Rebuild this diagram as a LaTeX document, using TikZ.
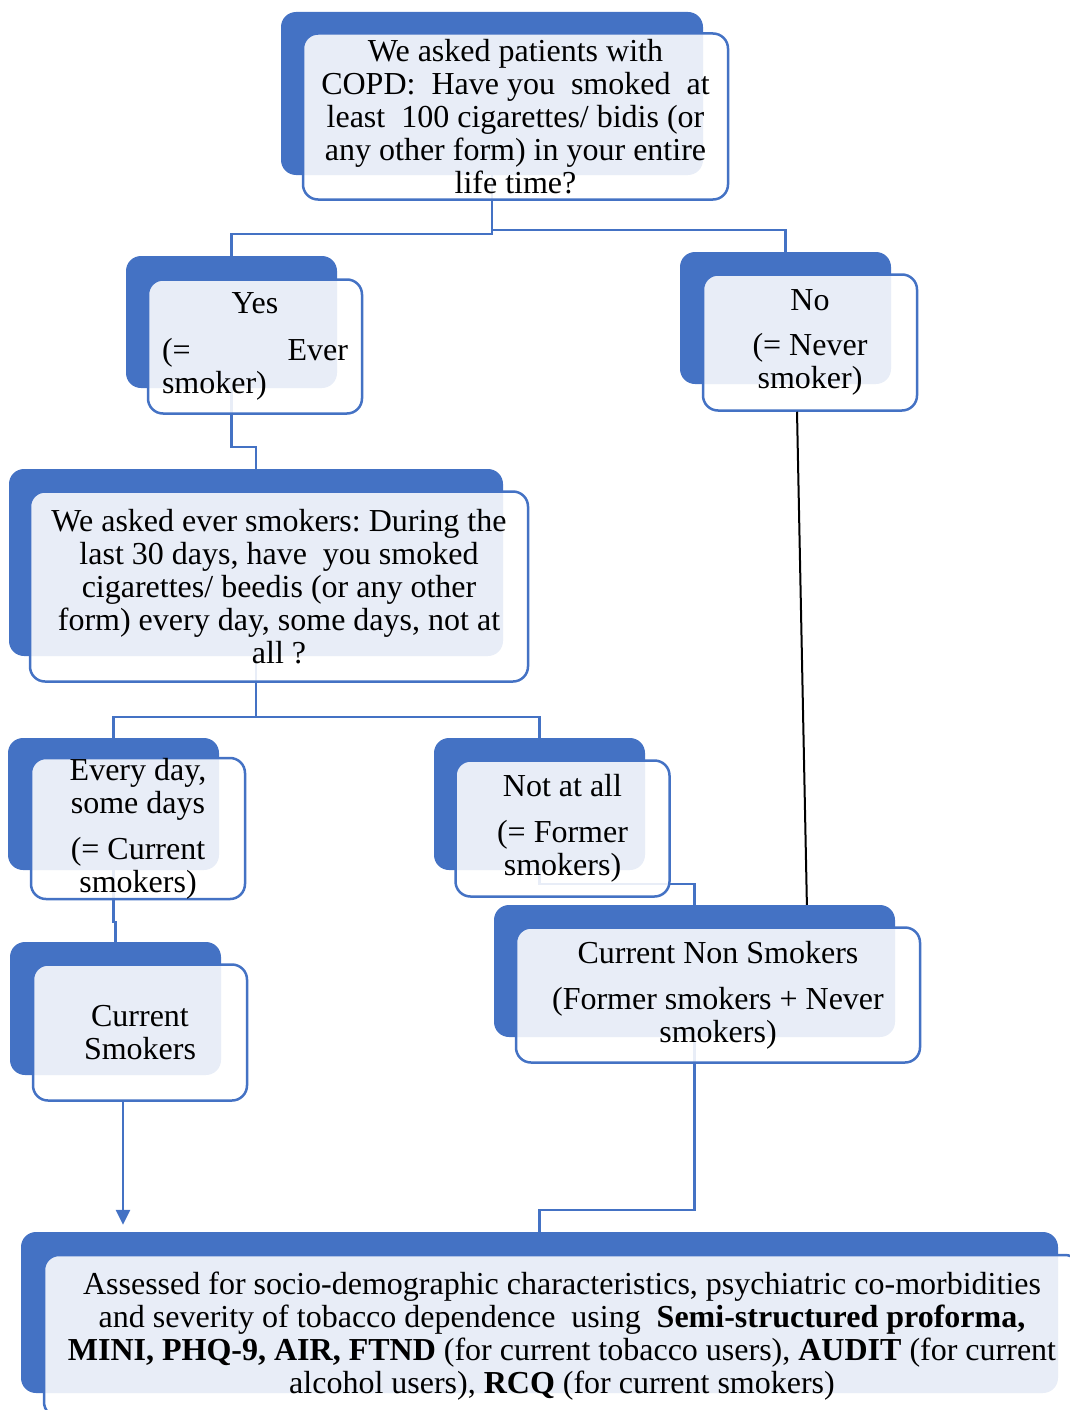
\documentclass[tikz,border=0pt]{standalone}
\usepackage{fontspec}
\setmainfont{Liberation Serif}
\frenchspacing
\usetikzlibrary{arrows.meta,calc}
\definecolor{cblue}{HTML}{4472C4}
\tikzset{
  % Solid card behind, washed-out card in front (offset down-right).
  back/.style  = {rectangle, rounded corners=15pt, fill=cblue, draw=none, inner sep=0pt},
  front/.style = {rectangle, rounded corners=15pt, draw=cblue, line width=2.5pt,
                  fill=white, fill opacity=0.88, text opacity=1, inner sep=0pt,
                  align=center, font=\fontsize{32}{33}\selectfont},
  link/.style  = {cblue, line width=2.5pt},
  arr/.style   = {link, -{Triangle[width=14pt,length=15pt]}},
}
\begin{document}
\begin{tikzpicture}[x=1pt,y=-1pt]
\useasboundingbox (0,0) rectangle (1070,1410);
\clip (0,0) rectangle (1070,1410);
% --- back cards -----------------------------------------------------------
\node[back, minimum width=422, minimum height=163] (q1)     at (492,93.5)    {};
\node[back, minimum width=211, minimum height=132] (yes)    at (231.5,322)   {};
\node[back, minimum width=211, minimum height=132] (no)     at (785.5,318)   {};
\node[back, minimum width=494, minimum height=187] (ever)   at (256,562.5)   {};
\node[back, minimum width=211, minimum height=132] (daily)  at (113.5,804)   {};
\node[back, minimum width=211, minimum height=132] (former) at (539.5,804)   {};
\node[back, minimum width=401, minimum height=132] (nonsmk) at (694.5,971)   {};
\node[back, minimum width=211, minimum height=133] (cursmk) at (115.5,1008.5) {};
\node[back, minimum width=1037, minimum height=161] (assess) at (539.5,1312.5) {};
% --- elbow connectors (behind the front cards) -----------------------------
\draw[link] (q1.south) -- ++(0,59) -| (yes.north);
\draw[link] (q1.south) -- ++(0,55) -| (no.north);
\draw[link] (yes.south) -- ++(0,59) -| (ever.north);
\draw[link] (ever.south) -- ++(0,61) -| (daily.north);
\draw[link] (ever.south) -- ++(0,61) -| (former.north);
\draw[link] (daily.south) -- ++(0,52) -| (cursmk.north);
\draw[link] (former.south) -- ++(0,14) -| (nonsmk.north);
\draw[link] (nonsmk.south) -- ++(0,173) -| (assess.north);
% --- front cards with the text ---------------------------------------------
\node[front, minimum width=425, minimum height=166] (q1f) at ($(q1)+(23.5,23)$)
  {We asked patients with\\COPD:\ \ Have you\ \ smoked\ \ at\\least\ \ 100 cigarettes/ bidis (or\\
   any other form) in your entire\\life time?};
\node[front, minimum width=214, minimum height=134] (yesf) at ($(yes)+(23.5,24.5)$)
  {Yes\\[14pt]\makebox[186pt][s]{(= Ever}\\\makebox[186pt][l]{smoker)}};
\node[front, minimum width=214, minimum height=136] (nof) at ($(no)+(24.5,24.5)$)
  {No\\[12pt](= Never\\smoker)};
\node[front, minimum width=498, minimum height=190] (everf) at ($(ever)+(23,24)$)
  {We asked ever smokers: During the\\last 30 days, have\ \ you smoked\\
   cigarettes/ beedis (or any other\\form) every day, some days, not at\\all ?};
\node[front, minimum width=214, minimum height=136] (dailyf) at ($(daily)+(24.5,24.5)$)
  {Every day,\\some days\\[13pt](= Current\\smokers)};
\node[front, minimum width=214, minimum height=136] (formerf) at ($(former)+(23,24.5)$)
  {Not at all\\[13pt](= Former\\smokers)};
\node[front, minimum width=404, minimum height=135] (nonsmkf) at ($(nonsmk)+(23.5,24)$)
  {Current Non Smokers\\[13pt](Former smokers + Never\\smokers)};
\node[front, minimum width=214, minimum height=136] (cursmkf) at ($(cursmk)+(24.5,24)$)
  {Current\\Smokers};
\node[front, minimum width=1036, minimum height=162] (assessf) at ($(assess)+(22.5,23.5)$)
  {Assessed for socio-demographic characteristics, psychiatric co-morbidities\\
   and severity of tobacco dependence\ \ using\ \ \textbf{Semi-structured proforma,}\\
   \textbf{MINI, PHQ-9, AIR, FTND} (for current tobacco users), \textbf{AUDIT} (for current\\
   alcohol users), \textbf{RCQ} (for current smokers)};
% --- straight links ---------------------------------------------------------
\draw[black, line width=2pt] ($(nof.south west)!0.44!(nof.south east)$)
  -- ($(nonsmk.north west)!0.78!(nonsmk.north east)$);
\coordinate (drop) at ($(cursmkf.south)+(-17,0)$);
\draw[arr, shorten >=7pt] (drop) -- (drop |- assess.north);
\end{tikzpicture}
\end{document}
